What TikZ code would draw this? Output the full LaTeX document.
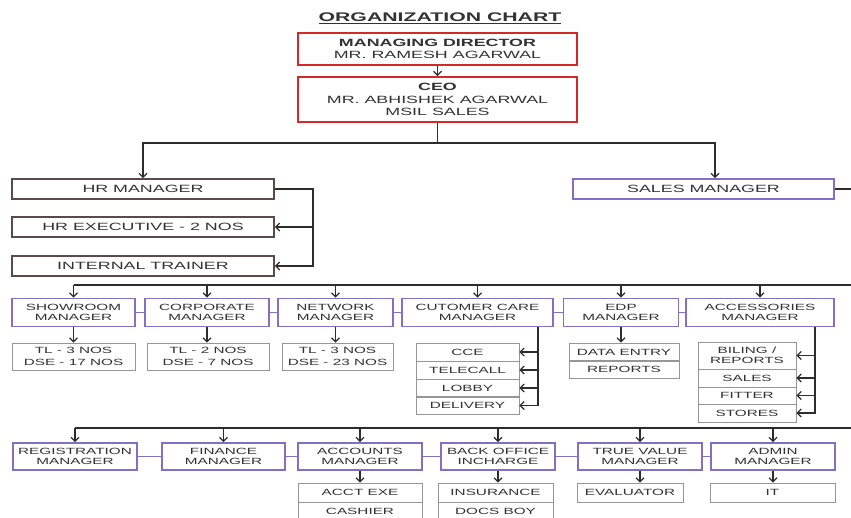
\documentclass[tikz,border=0pt]{standalone}
\usepackage{fontspec}
\setmainfont{Liberation Sans}[FakeStretch=1.7]
\usetikzlibrary{arrows.meta}
\definecolor{chartred}{RGB}{214,40,40}
\definecolor{hrbrown}{RGB}{92,74,74}
\definecolor{mgrblue}{RGB}{128,112,200}
\definecolor{subgray}{RGB}{150,150,150}
\definecolor{linegray}{RGB}{45,45,45}
\definecolor{textgray}{RGB}{50,50,50}
\tikzset{>={Straight Barb[length=4pt,width=8pt]}}

\begin{document}
\begin{tikzpicture}[x=1pt, y=-1pt, text=textgray, align=center, inner sep=0pt,
	redbox/.style={draw=chartred, line width=1.8pt, minimum width=279pt, font=\fontsize{10.5}{12.5}\selectfont},
	hrbox/.style={draw=hrbrown, line width=1.8pt, minimum width=262pt, minimum height=20pt, font=\fontsize{10.5}{12}\selectfont},
	mgrbox/.style={draw=mgrblue, line width=1.8pt, minimum height=28pt, font=\fontsize{9}{9.5}\selectfont},
	subbox/.style={draw=subgray, line width=0.8pt, minimum height=18pt, font=\fontsize{9}{11.5}\selectfont},
	conn/.style={draw=linegray, line width=1.2pt},
	link/.style={draw=mgrblue, line width=1.1pt}]

	\useasboundingbox (0,0) rectangle (851,517);
	\clip (0,0) rectangle (851,517);

	\node[font=\bfseries\fontsize{12.5}{14}\selectfont] (title) at (440,18) {\underline{ORGANIZATION CHART}};

	\node[redbox, minimum height=32pt] (md) at (437.5,49) {{\bfseries MANAGING DIRECTOR}\\MR. RAMESH AGARWAL};
	\node[redbox, minimum height=45pt] (ceo) at (437.5,99.5) {{\bfseries CEO}\\MR. ABHISHEK AGARWAL\\MSIL SALES};

	\node[hrbox] (hr) at (143,189) {HR MANAGER};
	\node[hrbox] (hrexec) at (143,227) {HR EXECUTIVE - 2 NOS};
	\node[hrbox] (trainer) at (143,266) {INTERNAL TRAINER};
	\node[mgrbox, minimum width=261pt, minimum height=20pt, font=\fontsize{10.5}{12}\selectfont] (sales) at (703.5,189) {SALES MANAGER};

	\node[mgrbox, minimum width=123pt] (showroom) at (73.5,312.5) {SHOWROOM\\MANAGER};
	\node[mgrbox, minimum width=124pt] (corporate) at (207,312.5) {CORPORATE\\MANAGER};
	\node[mgrbox, minimum width=115pt] (network) at (335.5,312.5) {NETWORK\\MANAGER};
	\node[mgrbox, minimum width=151pt] (custcare) at (477.5,312.5) {CUTOMER CARE\\MANAGER};
	\node[mgrbox, minimum width=115pt] (edp) at (621,312.5) {EDP\\MANAGER};
	\node[mgrbox, minimum width=148pt] (accessories) at (760,312.5) {ACCESSORIES\\MANAGER};

	\node[subbox, minimum width=123pt, minimum height=27pt] (showroomsub) at (73.5,356.5) {TL - 3 NOS\\DSE - 17 NOS};
	\node[subbox, minimum width=122pt, minimum height=27pt] (corpsub) at (208,356.5) {TL - 2 NOS\\DSE - 7 NOS};
	\node[subbox, minimum width=111pt, minimum height=27pt] (netsub) at (337.5,356.5) {TL - 3 NOS\\DSE - 23 NOS};

	\node[subbox, minimum width=103pt] (cce) at (467.5,352) {CCE};
	\node[subbox, minimum width=103pt] (telecall) at (467.5,370) {TELECALL};
	\node[subbox, minimum width=103pt] (lobby) at (467.5,388) {LOBBY};
	\node[subbox, minimum width=103pt] (delivery) at (467.5,405.5) {DELIVERY};

	\node[subbox, minimum width=110pt] (dataentry) at (624,352) {DATA ENTRY};
	\node[subbox, minimum width=110pt, minimum height=17.5pt] (reports) at (624,369.5) {REPORTS};

	\node[subbox, minimum width=98pt, minimum height=27pt, font=\fontsize{9}{9.5}\selectfont] (biling) at (747,355.5) {BILING /\\REPORTS};
	\node[subbox, minimum width=98pt] (accsales) at (747,378) {SALES};
	\node[subbox, minimum width=98pt, minimum height=17pt] (fitter) at (747,395.5) {FITTER};
	\node[subbox, minimum width=98pt] (stores) at (747,413) {STORES};

	\node[mgrbox, minimum width=124pt, minimum height=27pt] (registration) at (75,456.5) {REGISTRATION\\MANAGER};
	\node[mgrbox, minimum width=123pt, minimum height=27pt] (finance) at (223.5,456.5) {FINANCE\\MANAGER};
	\node[mgrbox, minimum width=124pt, minimum height=27pt] (accounts) at (360,456.5) {ACCOUNTS\\MANAGER};
	\node[mgrbox, minimum width=114pt, minimum height=27pt] (backoffice) at (498,456.5) {BACK OFFICE\\INCHARGE};
	\node[mgrbox, minimum width=124pt, minimum height=27pt] (truevalue) at (640,456.5) {TRUE VALUE\\MANAGER};
	\node[mgrbox, minimum width=124pt, minimum height=27pt] (admin) at (773,456.5) {ADMIN\\MANAGER};

	\node[subbox, minimum width=124pt, minimum height=19pt] (acctexe) at (360,492.5) {ACCT EXE};
	\node[subbox, minimum width=124pt, minimum height=19pt] (cashier) at (360,511.5) {CASHIER};
	\node[subbox, minimum width=115pt, minimum height=19pt] (insurance) at (495.5,492.5) {INSURANCE};
	\node[subbox, minimum width=115pt, minimum height=19pt] (docsboy) at (495.5,511.5) {DOCS BOY};
	\node[subbox, minimum width=106pt, minimum height=19pt] (evaluator) at (630,492.5) {EVALUATOR};
	\node[subbox, minimum width=125pt, minimum height=19pt] (it) at (772.5,492.5) {IT};

	\coordinate (split) at ([yshift=-20pt]ceo.south);
	\coordinate (r2) at (862,285);
	\coordinate (r3) at (862,428);
	\coordinate (ccbus) at ([xshift=60.5pt]custcare.south);
	\coordinate (accbus) at ([xshift=55pt]accessories.south);

	\draw[conn,->] (md) -- (ceo);
	\draw[conn] (ceo.south) -- (split);
	\draw[conn,->] (split) -| (hr.north);
	\draw[conn,->] (split) -| ([xshift=11.5pt]sales.north);

	\foreach \n in {hrexec,trainer}
		\draw[conn,->] (hr.east) -- ++(38,0) |- (\n.east);

	\draw[conn] (sales.east) -| (r3);
	\draw[conn] (r2) -- (showroom.north |- r2);
	\draw[conn] (r3) -- (registration.north |- r3);

	\foreach \n in {showroom,corporate,network,custcare,edp,accessories}
		\draw[conn,->] (\n.north |- r2) -- (\n.north);
	\foreach \n in {registration,finance,accounts,backoffice,truevalue,admin}
		\draw[conn,->] (\n.north |- r3) -- (\n.north);

	\foreach \a/\b in {showroom/corporate,corporate/network,network/custcare,custcare/edp,edp/accessories,
		registration/finance,finance/accounts,accounts/backoffice,backoffice/truevalue,truevalue/admin}
		\draw[link] (\a) -- (\b);

	\foreach \m/\s in {showroom/showroomsub,corporate/corpsub,network/netsub,edp/dataentry,
		accounts/acctexe,backoffice/insurance,truevalue/evaluator,admin/it}
		\draw[conn,->] (\m.south) -- (\m.south |- \s.north);

	\foreach \n in {cce,telecall,lobby,delivery}
		\draw[conn,->] (ccbus) |- (\n.east);
	\foreach \n in {biling,accsales,fitter,stores}
		\draw[conn,->] (accbus) |- (\n.east);
\end{tikzpicture}
\end{document}
